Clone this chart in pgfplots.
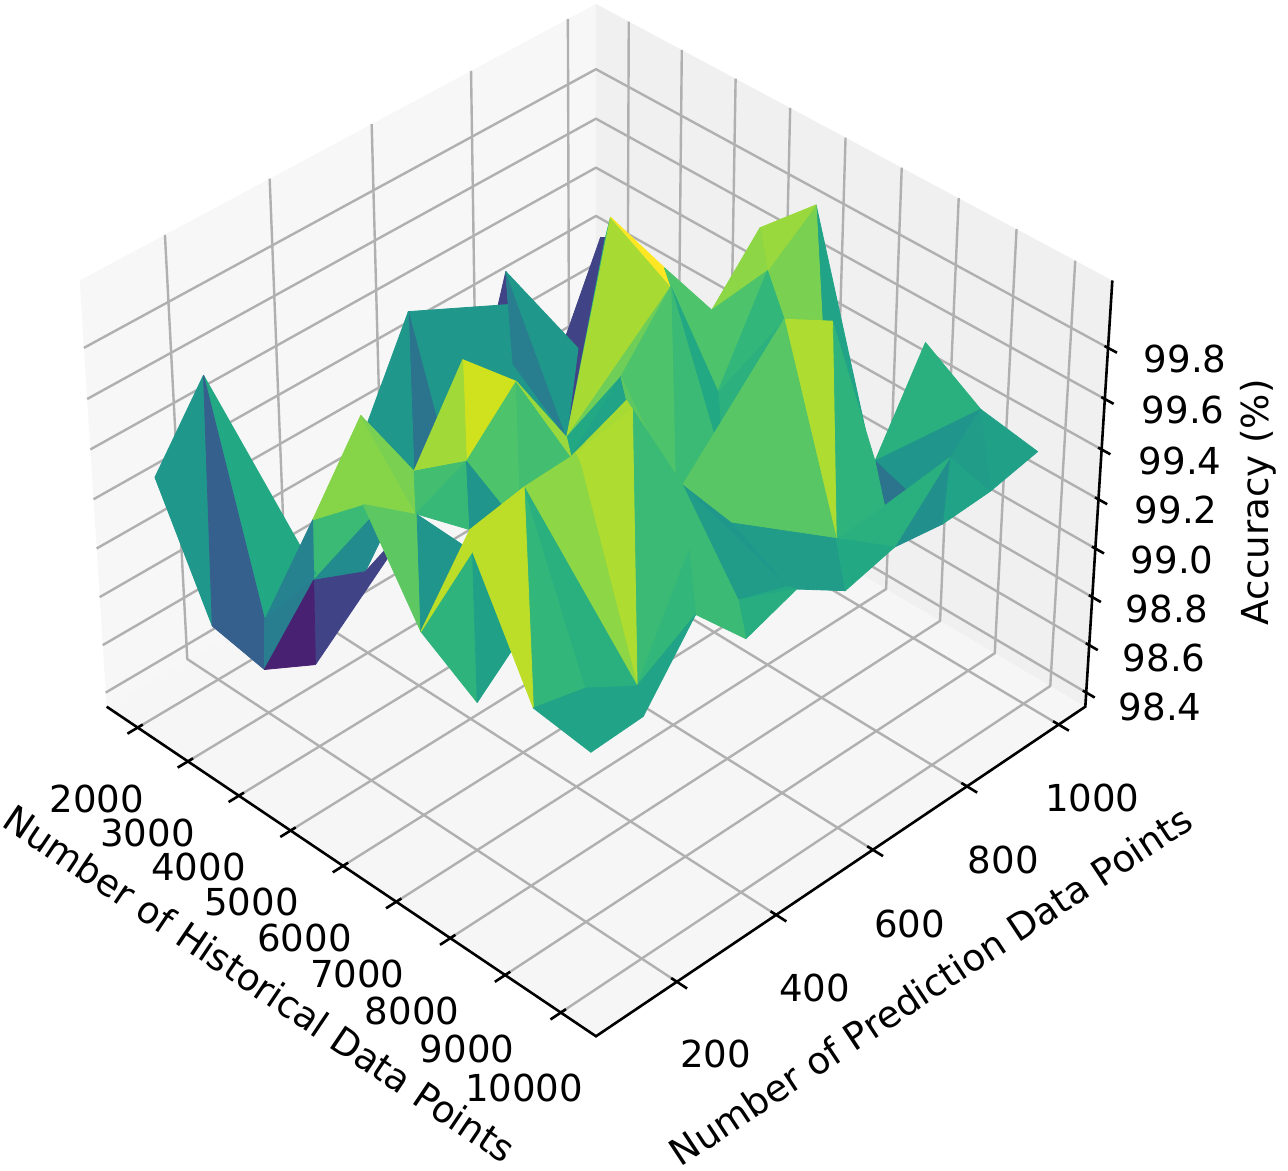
\documentclass[border=0pt]{standalone}
\usepackage{fontspec}
\setmainfont{DejaVu Sans}
\usepackage{pgfplots}
\pgfplotsset{compat=1.18}
\usepackage{pgfplotstable}

% matplotlib's 3D camera has perspective, pgfplots' has not: project by hand
\pgfplotsset{
  table/row sep=\\,
  table/proj/.style={
    x expr={Px(\thisrow{h},\thisrow{p},\thisrow{a})},
    y expr={Py(\thisrow{h},\thisrow{p},\thisrow{a})},
  },
  gridl/.style={color={rgb,255:red,176;green,176;blue,176},line width=1.2pt,forget plot,line join=round},
  axl/.style={black,line width=1.3pt,forget plot},
}
\tikzset{lab/.style={font=\fontsize{18.6}{18.6}\selectfont,inner sep=0pt}}

\begin{document}
\begin{tikzpicture}
\begin{axis}[
  scale only axis, width=644pt, height=586pt,
  xmin=0, xmax=1288, ymin=0, ymax=1172, y dir=reverse,
  hide axis, clip=false,
  colormap/viridis, point meta min=0, point meta max=1,
  declare function={
    Sx(\h)=2*(\h-1375)/9250-1;
    Sy(\p)=2*(\p-41)/1018-1;
    Sz(\a)=(\a-99.2)/0.86;
    Dep(\h,\p,\a)=10-0.336*(Sx(\h)-Sy(\p))-0.2687*Sz(\a);
    Px(\h,\p,\a)=595+2516*(Sx(\h)+Sy(\p))/Dep(\h,\p,\a);
    Py(\h,\p,\a)=500+(1514*(Sx(\h)-Sy(\p))-2132.5*Sz(\a))/Dep(\h,\p,\a);
  },
]
\path (axis cs:0,0) rectangle (axis cs:1288,1172);
% panes
\addplot[fill={rgb,255:red,246;green,246;blue,246},draw=none,forget plot] table[proj]{h p a\\ 1375 41 98.34\\ 10625 41 98.34\\ 10625 1059 98.34\\ 1375 1059 98.34\\};
\addplot[fill={rgb,255:red,247;green,247;blue,247},draw=none,forget plot] table[proj]{h p a\\ 1375 41 98.34\\ 1375 1059 98.34\\ 1375 1059 100.06\\ 1375 41 100.06\\};
\addplot[fill={rgb,255:red,240;green,240;blue,240},draw=none,forget plot] table[proj]{h p a\\ 1375 1059 98.34\\ 10625 1059 98.34\\ 10625 1059 100.06\\ 1375 1059 100.06\\};
% grid lines
\pgfplotsinvokeforeach{2000,3000,4000,5000,6000,7000,8000,9000,10000}{
  \addplot[gridl] table[proj]{h p a\\ #1 41 98.34\\ #1 1059 98.34\\ #1 1059 100.06\\};
  \addplot[axl] table[proj]{h p a\\ #1 21 98.34\\ #1 51 98.34\\};
}
\pgfplotsinvokeforeach{200,400,600,800,1000}{
  \addplot[gridl] table[proj]{h p a\\ 10625 #1 98.34\\ 1375 #1 98.34\\ 1375 #1 100.06\\};
  \addplot[axl] table[proj]{h p a\\ 10805 #1 98.34\\ 10525 #1 98.34\\};
}
\pgfplotsinvokeforeach{98.4,98.6,98.8,99.0,99.2,99.4,99.6,99.8}{
  \addplot[gridl] table[proj]{h p a\\ 1375 41 #1\\ 1375 1059 #1\\ 10625 1059 #1\\};
  \addplot[axl] table[proj]{h p a\\ 10565 1059 #1\\ 10775 1059 #1\\};
}
% axis lines
\addplot[axl] table[proj]{h p a\\ 1375 41 98.34\\ 10625 41 98.34\\ 10625 1059 98.34\\ 10625 1059 100.06\\};
% surface: vertices are rows 10*i+j of the 9x10 grid, faces back to front
\addplot[patch, shader=flat, forget plot, patch table with point meta={
  6 7 16 .2\\ 8 9 35 .2\\ 9 18 35 .2\\ 5 16 15 .53\\ 7 16 25 .53\\ 16 25 15 .53\\ 15 25 35 .53\\ 5 15 23 .38\\ 5 13 23 .53\\
  7 25 35 .42\\ 7 26 35 .53\\ 18 27 35 .65\\ 27 46 35 .87\\ 27 37 46 1.0\\
  49 59 58 .58\\ 49 58 48 .8\\ 48 66 58 .8\\ 39 49 48 .85\\ 38 39 48 .83\\ 38 48 47 .72\\
  37 38 47 .72\\ 37 47 46 .72\\ 47 56 66 .64\\ 48 47 66 .66\\ 46 47 56 .6\\ 46 56 55 .68\\
  69 79 68 .63\\ 68 78 77 .52\\ 68 87 77 .38\\ 68 79 78 .52\\ 79 89 88 .57\\ 79 88 78 .55\\
  78 87 88 .58\\ 78 86 87 .5\\ 77 78 86 .63\\ 77 86 76 .63\\ 67 68 77 .65\\ 67 77 76 .65\\ 66 67 76 .88\\
  35 46 45 .78\\ 45 46 55 .72\\ 35 44 45 .6\\ 44 45 54 .58\\ 45 55 54 .75\\ 54 55 64 .72\\
  65 66 76 .74\\ 64 65 66 .74\\ 65 76 75 .55\\ 64 65 75 .53\\ 64 75 74 .55\\
  76 75 85 .55\\ 76 85 86 .6\\ 75 84 85 .55\\ 74 84 75 .6\\ 74 83 84 .62\\ 82 83 74 .68\\
  54 64 63 .72\\ 63 64 74 .68\\ 63 73 74 .68\\ 63 72 73 .68\\ 73 82 74 .68\\ 72 82 73 .66\\
  12 21 23 .68\\ 21 31 23 .48\\ 22 32 40 .82\\ 12 22 40 .82\\ 22 23 32 .8\\
  24 34 33 .93\\ 23 24 33 .86\\ 23 33 32 .7\\ 33 34 43 .72\\ 34 43 44 .7\\ 34 35 44 .85\\
  32 33 42 .67\\ 33 42 43 .52\\
  53 54 63 .87\\ 44 53 54 .87\\ 53 62 63 .88\\ 52 53 62 .83\\ 62 63 72 .88\\ 52 62 72 .83\\
  52 70 71 .66\\ 52 71 72 .63\\
  1 11 3 .6\\ 0 1 10 .53\\ 1 10 11 .3\\ 10 11 20 .3\\ 11 12 21 .44\\ 11 20 21 .42\\
  21 30 31 .2\\ 20 30 21 .09\\ 30 31 41 .2\\ 40 41 50 .75\\ 41 50 51 .52\\
  50 51 60 .65\\ 51 60 61 .57\\ 50 42 51 .9\\ 42 51 52 .9\\ 51 52 70 .9\\
  70 71 80 .58\\ 71 80 81 .58\\ 71 72 81 .58\\ 72 81 82 .58\\
}] table[proj]{
h p a\\
2000 100 99.30\\ 2000 200 99.59\\ 2000 300 99.05\\ 2000 400 98.54\\ 2000 500 98.90\\
2000 600 99.39\\ 2000 700 98.62\\ 2000 800 99.33\\ 2000 900 98.81\\ 2000 1000 99.25\\
3000 100 98.83\\ 3000 200 98.73\\ 3000 300 99.02\\ 3000 400 99.23\\ 3000 500 99.30\\
3000 600 98.66\\ 3000 700 99.43\\ 3000 800 99.20\\ 3000 900 99.48\\ 3000 1000 98.90\\
4000 100 98.79\\ 4000 200 99.03\\ 4000 300 99.57\\ 4000 400 99.23\\ 4000 500 99.56\\
4000 600 99.43\\ 4000 733 99.34\\ 4000 800 99.79\\ 4000 900 99.20\\ 4000 1000 99.00\\
5000 100 98.95\\ 5000 200 99.20\\ 5000 300 99.31\\ 5000 400 99.40\\ 5000 500 99.60\\
5000 600 99.26\\ 5000 700 99.50\\ 5000 800 99.71\\ 5000 900 99.43\\ 5000 1000 99.65\\
6000 100 99.72\\ 6000 200 99.56\\ 6000 300 99.38\\ 6000 400 99.26\\ 6000 500 99.43\\
6000 600 99.63\\ 6000 700 99.87\\ 6000 800 99.34\\ 6000 900 99.71\\ 6000 1000 99.86\\
7000 100 99.36\\ 7000 200 99.55\\ 7000 300 99.68\\ 7000 400 99.69\\ 7000 500 99.78\\
7000 600 99.31\\ 7000 700 99.27\\ 7000 800 99.63\\ 7000 900 99.62\\ 7000 1000 99.08\\
8000 100 99.22\\ 8000 200 99.40\\ 8000 300 99.90\\ 8000 400 99.99\\ 8000 500 99.58\\
8000 600 99.31\\ 8000 700 99.99\\ 8000 800 99.87\\ 8000 900 99.20\\ 8000 1000 99.56\\
9000 100 99.34\\ 9000 200 99.29\\ 9000 300 99.17\\ 9000 400 99.58\\ 9000 500 99.26\\
9000 600 99.19\\ 9000 700 99.26\\ 9000 800 99.27\\ 9000 937 99.30\\ 9000 1000 99.42\\
10000 100 99.31\\ 10000 200 99.32\\ 10000 300 99.59\\ 10000 400 99.37\\ 10000 500 99.44\\
10000 600 99.31\\ 10000 700 99.36\\ 10000 800 99.33\\ 10000 900 99.34\\ 10000 1000 99.38\\
};
% tick labels
\node[lab] at (axis cs:95,800) {2000};
\node[lab] at (axis cs:146,834) {3000};
\node[lab] at (axis cs:197,868) {4000};
\node[lab] at (axis cs:250,903) {5000};
\node[lab] at (axis cs:303,939) {6000};
\node[lab] at (axis cs:356,975) {7000};
\node[lab] at (axis cs:411,1012) {8000};
\node[lab] at (axis cs:466,1050) {9000};
\node[lab] at (axis cs:523,1090) {10000};
\node[lab] at (axis cs:715,1055) {200};
\node[lab] at (axis cs:814,989) {400};
\node[lab] at (axis cs:909,925) {600};
\node[lab] at (axis cs:1003,861) {800};
\node[lab] at (axis cs:1092,799) {1000};
\node[lab] at (axis cs:1160,708) {98.4};
\node[lab] at (axis cs:1164,659) {98.6};
\node[lab] at (axis cs:1167,610) {98.8};
\node[lab] at (axis cs:1172,561) {99.0};
\node[lab] at (axis cs:1176,511) {99.2};
\node[lab] at (axis cs:1180,462) {99.4};
\node[lab] at (axis cs:1183,411) {99.6};
\node[lab] at (axis cs:1185,359) {99.8};
\node[lab,rotate=-34] at (axis cs:258,985) {Number of Historical Data Points};
\node[lab,rotate=33.5] at (axis cs:930,987) {Number of Prediction Data Points};
\node[lab,rotate=90] at (axis cs:1258,503) {Accuracy (\%)};
\end{axis}
\end{tikzpicture}
\end{document}
